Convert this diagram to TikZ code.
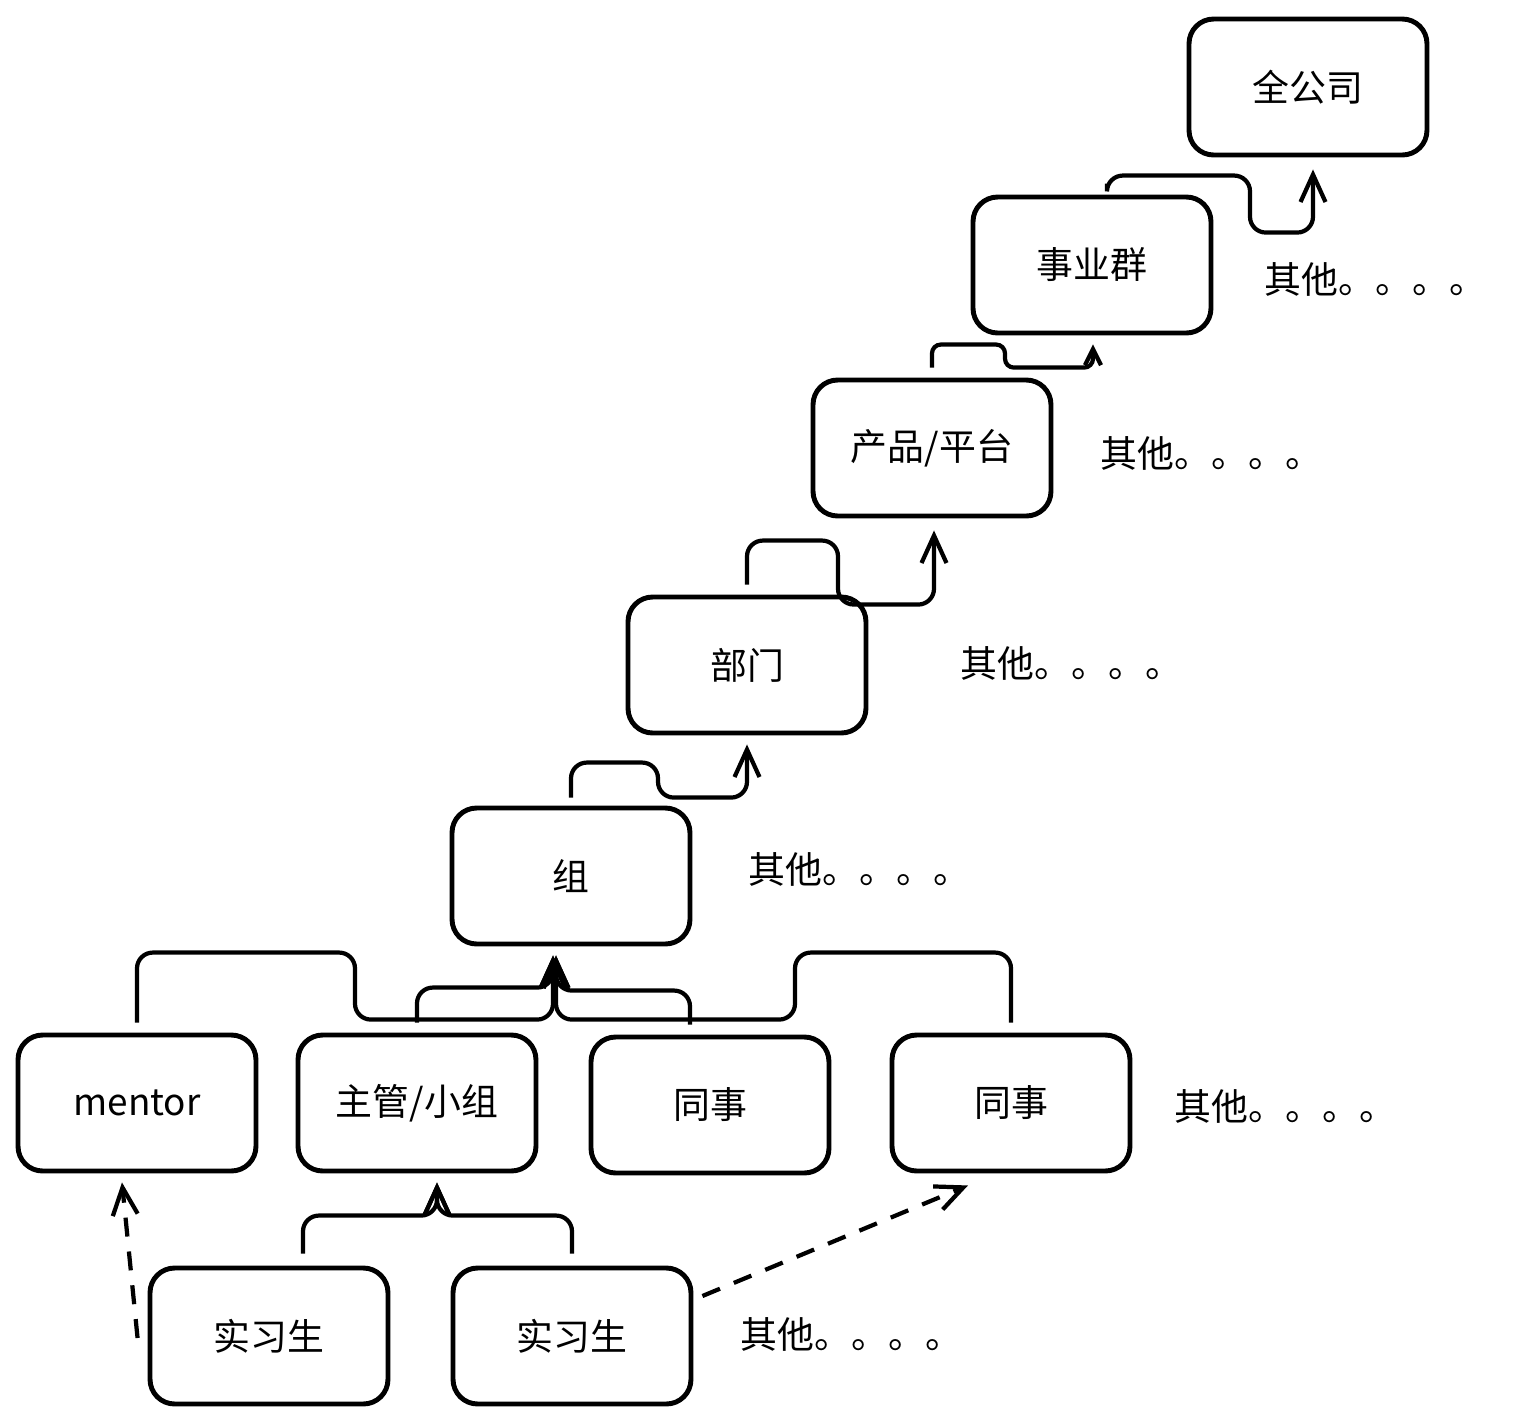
\documentclass[tikz,border=0pt]{standalone}
\usepackage{fontspec}
\setmainfont{Noto Sans CJK SC}
\usetikzlibrary{arrows.meta}
\tikzstyle{nivel}=[draw, line width=2.8pt, rounded corners=14pt,
  minimum width=4.76cm, minimum height=2.72cm, text centered,
  font=\fontsize{21}{25}\selectfont]
\tikzstyle{otros}=[anchor=west, inner sep=0pt, font=\fontsize{21}{25}\selectfont]
\tikzstyle{line}=[draw, line width=2.4pt, rounded corners=9pt,
  -{Straight Barb[length=5.5mm,width=5mm]}]
\tikzstyle{linecorta}=[line, rounded corners=5pt,
  -{Straight Barb[length=3.2mm,width=3.2mm]}]
\tikzstyle{linepart}=[line, dash pattern=on 0.38cm off 0.3cm]
\newcommand{\nivel}[2]{node (p#1) [nivel] {#2}}
\newcommand{\otros}[1]{node (o#1) [otros] {其他。。。。}}

\begin{document}
\begin{tikzpicture}[x=0.02cm, y=-0.02cm]
\useasboundingbox (0,0) rectangle (1519,1424);

% Draw diagram elements
\path (1308,87)                 \nivel{1}{全公司};
\path (p1.center)+(-216,178)   \nivel{2}{事业群};
\path (p2.center)+(-160,183)   \nivel{3}{产品/平台};
\path (p3.center)+(-185,217)   \nivel{4}{部门};
\path (p4.center)+(-176,211)   \nivel{5}{组};

\path (p5.center)+(-154,227)   \nivel{7}{主管/小组};
\path (p7.center)+(-280,0)     \nivel{6}{mentor};
\path (p7.center)+(293,2)      \nivel{8}{同事};
\path (p8.center)+(301,-2)     \nivel{9}{同事};

\path (p7.center)+(-148,233)   \nivel{10}{实习生};
\path (p10.center)+(303,0)     \nivel{11}{实习生};

% Other units on each level
\path (p2.east)+(51,14)  \otros{2};
\path (p3.east)+(47,5)   \otros{3};
\path (p4.east)+(92,-2)  \otros{4};
\path (p5.east)+(56,-7)  \otros{5};
\path (p9.east)+(42,3)   \otros{9};
\path (p11.east)+(47,-2) \otros{11};

% Draw arrows between elements
\path [line] ([shift={(15,-11)}]p2.north) -- ++(0,-8) -| ++(143,57)
    -| ([shift={(5,12)}]p1.south);
\path [linecorta] ([shift={(0,-10)}]p3.north) -- ++(0,-23) -| ++(73,23)
    -| ([shift={(1,9)}]p2.south);
\path [line] ([shift={(0,-10)}]p4.north) -- ++(0,-44) -| ++(91,64)
    -| ([shift={(2,12)}]p3.south);
\path [line] ([shift={(0,-8)}]p5.north) -- ++(0,-35) -| ++(87,35)
    -| ([shift={(0,9)}]p4.south);

\path [line] ([shift={(0,-10)}]p6.north) -- ++(0,-70) -| ++(218,67)
    -| ([shift={(-18,9)}]p5.south);
\path [line] ([shift={(0,-10)}]p7.north) -- ++(0,-35)
    -| ([shift={(-18,9)}]p5.south);
\path [line] ([shift={(-20,-10)}]p8.north) -- ++(0,-34)
    -| ([shift={(-15,9)}]p5.south);
\path [line] ([shift={(0,-10)}]p9.north) -- ++(0,-70) -| ++(-216,67)
    -| ([shift={(-15,9)}]p5.south);

\path [line] ([shift={(34,-12)}]p10.north) -- ++(0,-38)
    -| ([shift={(20,9)}]p7.south);
\path [line] ([shift={(0,-12)}]p11.north) -- ++(0,-38)
    -| ([shift={(20,9)}]p7.south);

\path [linepart] ([shift={(-10,2)}]p10.west) -- ([shift={(-15,9)}]p6.south);
\path [linepart] ([shift={(9,-40)}]p11.east) -- ([shift={(-43,12)}]p9.south);
\end{tikzpicture}
\end{document}
